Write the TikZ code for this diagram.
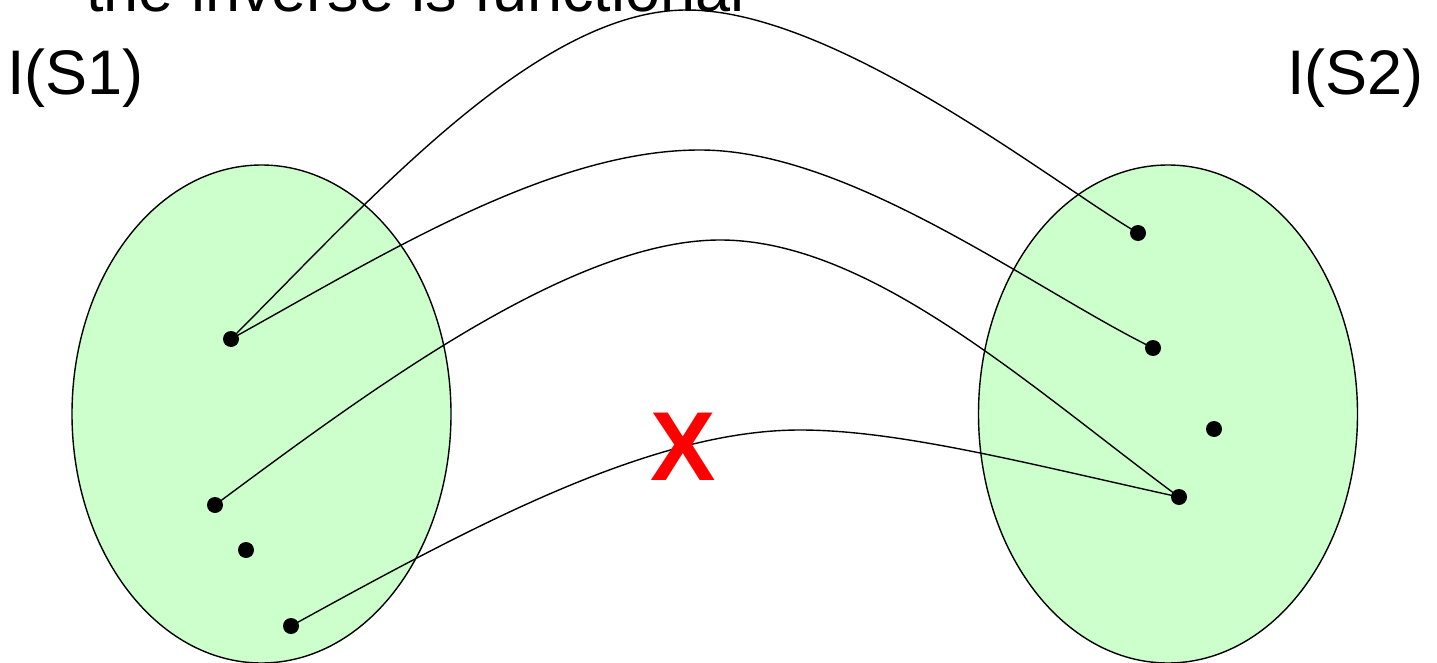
\documentclass[tikz,border=0pt]{standalone}
\usepackage{fontspec}
\setmainfont{Liberation Sans}
\usetikzlibrary{shapes.geometric}
\definecolor{setgreen}{RGB}{204,255,204}
\tikzset{
  setshape/.style={ellipse, draw=black, line width=1.4pt, fill=setgreen, inner sep=0pt, minimum width=379pt, minimum height=498pt},
  dotnode/.style={circle, fill=black, inner sep=0pt, minimum size=16pt},
  link/.style={line width=1.4pt, black},
  bigtext/.style={inner sep=0pt, font=\fontsize{63}{75}\selectfont},
}
\begin{document}
\begin{tikzpicture}[x=1pt,y=-1pt]
\useasboundingbox (0,0) rectangle (1437,663);
\node[setshape] (S1) at (261.5,414) {};
\node[setshape] (S2) at (1168,414) {};

\coordinate (a1) at (231,339);
\coordinate (a2) at (215,505);
\coordinate (a3) at (246,550);
\coordinate (a4) at (291,626);
\coordinate (b1) at (1138,233);
\coordinate (b2) at (1153,348);
\coordinate (b3) at (1214,429);
\coordinate (b4) at (1179,497);

\draw[link] (a1) .. controls (371,199) and (537,10) .. (687,10)
                 .. controls (837,10) and (1058,187) .. (b1);
\draw[link] (a1) .. controls (381,256) and (550,150) .. (700,150)
                 .. controls (850,150) and (1033,289) .. (b2);
\draw[link] (a2) .. controls (365,394) and (570,240) .. (720,240)
                 .. controls (870,240) and (1029,386) .. (b4);
\draw[link] (a4) .. controls (471,527) and (650,430) .. (800,430)
                 .. controls (900,430) and (1029,464) .. (b4);

\foreach \p in {a1,a2,a3,a4,b1,b2,b3,b4}{
  \node[dotnode] (d\p) at (\p) {};
}

\node[bigtext, anchor=base west] (title) at (86,12) {the inverse is functional};
\node[bigtext, anchor=base west] (L1) at (7,95) {I(S1)};
\node[bigtext, anchor=base west] (L2) at (1287,95) {I(S2)};
\node[inner sep=0pt, anchor=base, text=red, font=\fontsize{98}{110}\selectfont\bfseries] (X) at (683,480) {X};
\end{tikzpicture}
\end{document}
